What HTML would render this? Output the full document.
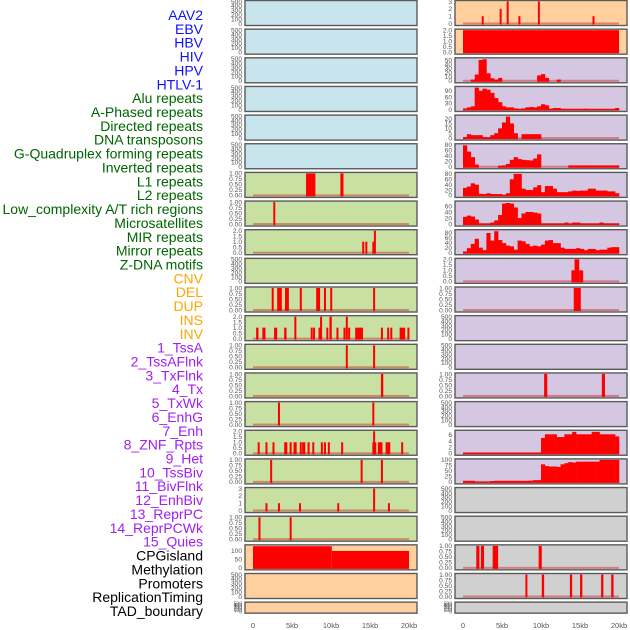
<!DOCTYPE html>
<html><head><meta charset="utf-8"><style>
body{margin:0;background:#fff;width:630px;height:630px;overflow:hidden}
svg{display:block;font-family:"Liberation Sans",sans-serif}
</style></head><body>
<svg id="c" width="630" height="630" viewBox="0 0 630 630"></svg>
<script>
// ---- labels ----
const trackLabels = ["AAV2","EBV","HBV","HIV","HPV","HTLV-1","Alu repeats","A-Phased repeats","Directed repeats","DNA transposons","G-Quadruplex forming repeats","Inverted repeats","L1 repeats","L2 repeats","Low_complexity A/T rich regions","Microsatellites","MIR repeats","Mirror repeats","Z-DNA motifs","CNV","DEL","DUP","INS","INV","1_TssA","2_TssAFlnk","3_TxFlnk","4_Tx","5_TxWk","6_EnhG","7_Enh","8_ZNF_Rpts","9_Het","10_TssBiv","11_BivFlnk","12_EnhBiv","13_ReprPC","14_ReprPCWk","15_Quies","CPGisland","Methylation","Promoters","ReplicationTiming","TAD_boundary"];
const labelGroups = [6,13,5,15,5];
const xTickLabels = ["0","5kb","10kb","15kb","20kb"];
const xTickValues = [0,5,10,15,20];

// ---- tick sets ----
const ticksEmpty = ["0","100","200","300","400","500"];
const ticksUnit = ["0.00","0.25","0.50","0.75","1.00"];
const ticksTwo = ["0.0","0.5","1.0","1.5","2.0"];
const ticksThree = ["0","1","2","3"];

// ---- left column event data [startKb, endKb, value] ----
const l1Bars = [[6.8,8.0,1],[11.2,11.6,1]];
const l2Bars = [[2.6,2.8,1]];
const aphBars = [[14.0,14.2,1],[14.4,14.6,1],[15.3,15.5,1],[15.5,15.7,2]];
const dirBars = [[2.4,2.6,1],[3.1,3.7,1],[4.1,4.6,1],[6.0,6.2,1],[8.1,8.6,1],[9.1,9.3,1],[9.9,10.1,1],[15.4,15.6,1]];
const invBars = [[0.4,0.7,1],[1.2,1.6,1],[2.7,3.1,1],[4.0,4.3,1],[5.3,5.5,2],[7.4,7.6,1],[7.7,7.9,1],[8.4,8.8,1],[8.6,8.8,2],[9.4,9.6,1],[9.8,10.1,2],[10.7,10.9,1],[11.6,11.8,1],[11.9,12.1,2],[12.2,12.4,1],[13.1,14.1,1],[16.4,16.6,1],[17.2,17.4,1],[17.6,17.8,1],[18.8,19.5,1],[19.8,20.0,1]];
const r12Bars = [[11.9,12.1,1],[15.4,15.6,1]];
const r13Bars = [[16.4,16.7,1]];
const r14Bars = [[3.2,3.4,1],[15.3,15.5,1]];
const r15Bars = [[0.6,0.8,1],[1.6,1.8,1],[2.5,2.7,1],[4.0,4.4,1],[4.7,4.9,1],[5.2,5.6,1],[6.0,6.2,1],[6.3,6.7,1],[7.0,7.2,1],[7.6,7.8,1],[8.7,8.9,1],[9.1,9.3,1],[9.6,9.8,1],[11.3,11.5,1],[15.3,15.8,1],[15.4,15.6,2],[16.0,16.6,1],[17.0,17.6,1],[19.0,19.2,1]];
const r16Bars = [[2.2,2.4,1],[13.8,14.0,1],[16.4,16.6,1]];
const r17Bars = [[1.6,1.8,1],[3.2,3.4,1],[5.9,6.1,1],[10.8,11.0,1],[15.4,15.6,3],[17.3,17.5,1]];
const r18Bars = [[0.7,0.9,1],[4.7,4.9,1]];
const cpgBars = [[0,10.1,128],[10.1,20,100]];

// ---- right column data ----
const aav2Bars = [[2.4,2.6,1],[4.7,4.9,2],[5.6,5.8,3],[7.1,7.3,1],[9.6,9.8,3],[16.6,16.8,1]];
const ebvBars = [[0,20,2]];
const hivHist = [0,0,3,15,50,52,18,6,3,7,0,0,0,0,0,0,0,0,0,13,16,7,0,0,3,0,0,0,0,0,0,0,0,0,0,0,0,0,0,0];
const hpvHist = [5,10,15,105,90,100,95,80,55,35,15,10,10,5,2,5,10,12,10,15,25,20,3,7,7,3,2,2,2,2,2,3,2,2,2,2,2,2,2,7];
const aluHist = [1,4,3,3,3,1,1,3,5,10,16,22,15,5,0,4,4,4,4,4,0,0,0,0,0,0,0,0,0,0,0,0,0,0,0,0,0,0,0,0];
const aphHist = [78,55,35,8,0,0,0,0,0,4,5,10,25,35,28,25,24,23,30,45,0,0,0,0,0,0,0,5,5,5,5,5,5,5,5,5,5,5,5,5];
const dirHist = [28,33,45,40,6,5,8,5,5,5,2,8,60,80,80,25,20,20,30,38,12,35,35,25,12,12,12,15,18,17,18,18,25,25,18,18,18,15,15,8];
const dnaHist = [24,28,25,15,2,2,2,5,12,30,68,70,68,55,20,35,40,40,38,35,2,2,2,2,2,2,5,2,5,5,2,2,2,2,2,5,2,2,2,2];
const gqHist = [5,18,35,55,20,10,78,48,85,50,38,28,25,12,48,45,35,25,28,25,32,48,50,38,38,20,15,15,15,18,15,10,15,15,10,12,12,20,22,22];
const invRBars = [[13.9,14.3,1],[14.3,14.9,2],[14.9,15.4,1]];
const l1RBars = [[14.2,15.1,1]];
const r13RBars = [[10.4,10.8,1],[17.8,18.2,1]];
const znfHist = [0.2,0.2,0.2,0.2,0.2,0.2,0.2,0.2,0.2,0.2,0.2,0.2,0.2,0.2,0.2,0.2,0.2,0.2,0.2,0.2,5,6.2,6.2,6.2,5.3,5.3,6.2,6.2,7,6.2,6.2,6.2,6.2,7,7,6.2,6.2,6.2,6.2,5.5];
const hetHist = [5,5,5,1,1,1,1,4,5,5,5,5,5,5,5,5,5,6,8,8,80,72,70,70,68,80,85,90,88,92,92,92,92,92,92,100,100,100,100,100];
const r19RBars = [[1.7,2.1,1],[2.3,2.7,1],[3.8,4.5,1],[9.7,10.1,1]];
const r20RBars = [[8.0,8.2,1],[10.1,10.4,1],[13.7,14.0,1],[15.0,15.3,1],[17.7,18.0,1],[19.0,19.3,1]];

// ---- panel config (layout/style) ----
const BLUE="#c8e4ec",GREEN="#c8e0a2",PEACH="#ffd09e",LAV="#d5c6e2",GRAY="#d0d0d0";
const panels = [];
function P(col,row,fill,ticks,max,bars,hist){panels.push({col,row,fill,ticks,max,bars,hist});}
for(let r=0;r<6;r++) P(0,r,BLUE,ticksEmpty,500,null,null);
P(0,6,GREEN,ticksUnit,1,l1Bars); P(0,7,GREEN,ticksUnit,1,l2Bars); P(0,8,GREEN,ticksTwo,2,aphBars);
P(0,9,GREEN,ticksEmpty,500,null); P(0,10,GREEN,ticksUnit,1,dirBars); P(0,11,GREEN,ticksTwo,2,invBars);
P(0,12,GREEN,ticksUnit,1,r12Bars); P(0,13,GREEN,ticksUnit,1,r13Bars); P(0,14,GREEN,ticksUnit,1,r14Bars);
P(0,15,GREEN,ticksTwo,2,r15Bars); P(0,16,GREEN,ticksUnit,1,r16Bars); P(0,17,GREEN,ticksThree,3,r17Bars);
P(0,18,GREEN,ticksUnit,1,r18Bars); P(0,19,PEACH,["0","50","100"],130,cpgBars);
P(0,20,PEACH,ticksEmpty,500,null); P(0,21,PEACH,ticksEmpty,500,null);
P(1,0,PEACH,ticksThree,3,aav2Bars); P(1,1,PEACH,ticksTwo,2,ebvBars);
P(1,2,LAV,["0","10","20","30","40","50"],53,null,hivHist);
P(1,3,LAV,["0","30","60","90"],106,null,hpvHist);
P(1,4,LAV,["0","5","10","15","20"],22.5,null,aluHist);
P(1,5,LAV,["0","20","40","60","80"],80,null,aphHist);
P(1,6,LAV,["0","20","40","60","80"],82,null,dirHist);
P(1,7,LAV,["0","20","40","60"],73,null,dnaHist);
P(1,8,LAV,["0","20","40","60","80"],87,null,gqHist);
P(1,9,LAV,ticksTwo,2,invRBars); P(1,10,LAV,ticksUnit,1,l1RBars);
P(1,11,LAV,ticksEmpty,500,null); P(1,12,LAV,ticksEmpty,500,null);
P(1,13,LAV,ticksUnit,1,r13RBars); P(1,14,LAV,ticksEmpty,500,null);
P(1,15,LAV,["0","2","4","6"],7.2,null,znfHist);
P(1,16,LAV,["0","25","50","75","100"],100,null,hetHist);
for(let r=17;r<22;r++){ if(r===19) P(1,r,GRAY,ticksUnit,1,r19RBars); else if(r===20) P(1,r,GRAY,ticksUnit,1,r20RBars); else P(1,r,GRAY,ticksEmpty,500,null); }

const NS="http://www.w3.org/2000/svg";
const svg=document.getElementById('c');
function mk(tag,attrs,parent){const e=document.createElementNS(NS,tag);for(const k in attrs)e.setAttribute(k,attrs[k]);(parent||svg).appendChild(e);return e;}
function xScale(col,kb){return (col?463:253)+kb*7.8;}

// left labels
const groupColors=["#1010ff","#006400","#ffa500","#a020f0","#000000"];
let gi=0,gc=0;
trackLabels.forEach((t,i)=>{
  if(gc>=labelGroups[gi]){gi++;gc=0;}gc++;
  const e=mk('text',{x:203,y:20+i*13.86,'text-anchor':'end','font-size':'14',fill:groupColors[gi]});
  e.textContent=t;
  
  
});

panels.forEach(p=>{
  const top=p.row*28.65+0.5, h=p.row<21?25:11, px=p.col?455:245, w=172;
  const g=mk('g',{});
  
  
  mk('rect',{x:px,y:top,width:w,height:h,fill:p.fill,stroke:'#5a5a5a','stroke-width':1.4},g);
  const y=v=>top+h-2-v/p.max*(h-3);
  const n=p.ticks.length;
  p.ticks.forEach((t,i)=>{
    const val=parseFloat(t);
    const e=mk('text',{x:px-3,y:y(val)+2.3,'text-anchor':'end','font-size':h<20?'5':'6.6',fill:'#555'},g);
    e.textContent=t;
    
    
  });
  if(p.bars||p.hist){
    const bl=mk('rect',{x:xScale(p.col,0),y:top+h-3,width:xScale(p.col,20)-xScale(p.col,0),height:2,fill:'rgba(200,30,30,0.45)'},g);
    
  }
  if(p.bars){p.bars.forEach(b=>{
    const x1=xScale(p.col,b[0]),x2=Math.max(xScale(p.col,b[1]),x1+2);
    const r=mk('rect',{x:x1,y:y(b[2]),width:x2-x1,height:top+h-1-y(b[2]),fill:'#ff0000'},g);
    
    
  });}
  if(p.hist){p.hist.forEach((v,i)=>{
    if(v<=0)return;
    const x1=xScale(p.col,i*0.5),x2=xScale(p.col,(i+1)*0.5);
    const r=mk('rect',{x:x1,y:y(v),width:x2-x1+0.3,height:top+h-1-y(v),fill:'#ff0000'},g);
    
    
  });}
});

// x axes
[0,1].forEach(col=>{
  xTickValues.forEach((v,i)=>{
    const e=mk('text',{x:xScale(col,v),y:628,'text-anchor':'middle','font-size':'7.5',fill:'#555'});
    e.textContent=xTickLabels[i];
    
    
  });
});
</script>
</body></html>
